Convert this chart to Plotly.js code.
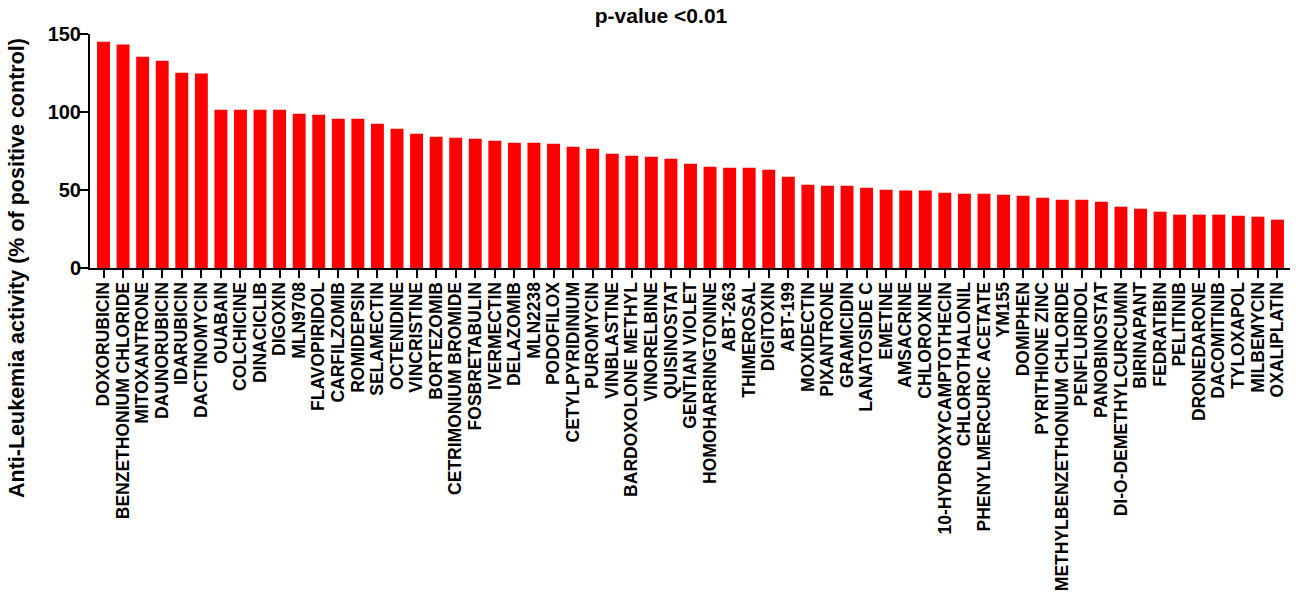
<!DOCTYPE html>
<html>
<head>
<meta charset="utf-8">
<script src="https://cdn.plot.ly/plotly-3.0.1.min.js"></script>
<style>
  html, body { margin: 0; padding: 0; background: #ffffff; }
  #chart { width: 1300px; height: 598px; }
</style>
</head>
<body>
<div id="chart"></div>
<script>
// Compounds ranked by anti-leukemia activity (p-value < 0.01)
const compounds = [
  "DOXORUBICIN", "BENZETHONIUM CHLORIDE", "MITOXANTRONE", "DAUNORUBICIN", "IDARUBICIN",
  "DACTINOMYCIN", "OUABAIN", "COLCHICINE", "DINACICLIB", "DIGOXIN",
  "MLN9708", "FLAVOPIRIDOL", "CARFILZOMIB", "ROMIDEPSIN", "SELAMECTIN",
  "OCTENIDINE", "VINCRISTINE", "BORTEZOMIB", "CETRIMONIUM BROMIDE", "FOSBRETABULIN",
  "IVERMECTIN", "DELAZOMIB", "MLN2238", "PODOFILOX", "CETYLPYRIDINIUM",
  "PUROMYCIN", "VINBLASTINE", "BARDOXOLONE METHYL", "VINORELBINE", "QUISINOSTAT",
  "GENTIAN VIOLET", "HOMOHARRINGTONINE", "ABT-263", "THIMEROSAL", "DIGITOXIN",
  "ABT-199", "MOXIDECTIN", "PIXANTRONE", "GRAMICIDIN", "LANATOSIDE C",
  "EMETINE", "AMSACRINE", "CHLOROXINE", "10-HYDROXYCAMPTOTHECIN", "CHLOROTHALONIL",
  "PHENYLMERCURIC ACETATE", "YM155", "DOMIPHEN", "PYRITHIONE ZINC", "METHYLBENZETHONIUM CHLORIDE",
  "PENFLURIDOL", "PANOBINOSTAT", "DI-O-DEMETHYLCURCUMIN", "BIRINAPANT", "FEDRATIBIN",
  "PELITINIB", "DRONEDARONE", "DACOMITINIB", "TYLOXAPOL", "MILBEMYCIN",
  "OXALIPLATIN"
];

// Activity, % of positive control
const activity = [
  145.1, 143.3, 135.4, 132.9, 125.2,
  124.6, 101.5, 101.5, 101.5, 101.5,
  98.9, 98.3, 95.7, 95.7, 92.5,
  89.3, 86.1, 84.2, 83.5, 82.9,
  81.6, 80.3, 80.3, 79.7, 77.8,
  76.5, 73.3, 72.0, 71.3, 70.1,
  66.9, 64.9, 64.3, 64.3, 63.0,
  58.5, 53.4, 52.8, 52.8, 51.5,
  50.2, 49.6, 49.6, 48.3, 47.6,
  47.6, 47.0, 46.3, 45.1, 43.8,
  43.8, 42.5, 39.3, 38.0, 36.1,
  34.2, 34.2, 34.2, 33.5, 32.9,
  31.0
];

const yTicks = [0, 50, 100, 150];

const FONT = "Liberation Sans, Arial, Helvetica, sans-serif";

const trace = {
  type: "bar",
  x: compounds,
  y: activity,
  marker: { color: "#ff0000", line: { width: 0 } },
  hoverinfo: "x+y"
};

const layout = {
  width: 1300,
  height: 598,
  margin: { l: 90, r: 10, t: 34, b: 330, pad: 0 },
  paper_bgcolor: "#ffffff",
  plot_bgcolor: "#ffffff",
  bargap: 0.34,
  showlegend: false,
  font: { family: FONT, color: "#000000" },
  title: {
    text: "p-value <0.01",
    font: { family: FONT, size: 21, weight: 700, color: "#000000" },
    xref: "container", x: 661 / 1300, xanchor: "center",
    yref: "container", y: 1 - 16 / 598, yanchor: "middle"
  },
  xaxis: {
    type: "category",
    range: [-0.69, 60.64],
    tickmode: "array",
    tickvals: compounds,
    ticktext: compounds,
    showgrid: false,
    zeroline: false,
    showline: true,
    linecolor: "#000000",
    linewidth: 2,
    ticks: "outside",
    ticklen: 8,
    tickwidth: 2,
    tickcolor: "#000000",
    tickangle: -90,
    ticklabelstandoff: -3,
    tickfont: { family: FONT, size: 17.5, weight: 700, color: "#000000" },
    fixedrange: true
  },
  yaxis: {
    range: [0, 150],
    tickmode: "array",
    tickvals: yTicks,
    ticktext: yTicks.map(String),
    showgrid: false,
    zeroline: false,
    showline: true,
    linecolor: "#000000",
    linewidth: 2,
    ticks: "outside",
    ticklen: 8,
    tickwidth: 2,
    tickcolor: "#000000",
    ticklabelstandoff: -5,
    tickfont: { family: FONT, size: 20, weight: 700, color: "#000000" },
    fixedrange: true
  },
  annotations: [{
    text: "Anti-Leukemia activity (% of positive control)",
    xref: "paper", yref: "paper",
    x: (17 - 90) / 1200, y: (268 - 268) / 234,
    xanchor: "center", yanchor: "middle",
    textangle: -90,
    showarrow: false,
    font: { family: FONT, size: 21.5, weight: 700, color: "#000000" }
  }]
};

Plotly.newPlot("chart", [trace], layout, { displayModeBar: false, staticPlot: true });
</script>
</body>
</html>
